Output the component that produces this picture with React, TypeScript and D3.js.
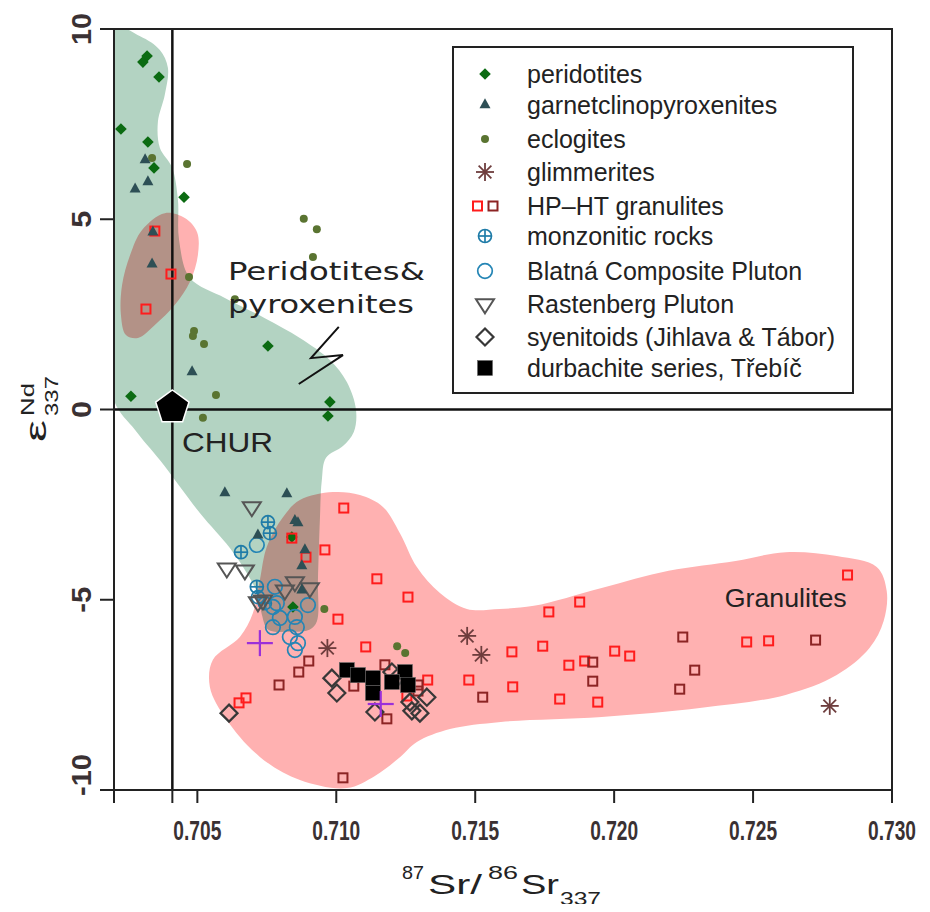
import React from "react";
import * as d3 from "d3";

// 87Sr/86Sr (337 Ma) vs eps Nd (337 Ma)
const xTicks = [0.705, 0.71, 0.715, 0.72, 0.725, 0.73];
const xTickLabels = ["0.705", "0.710", "0.715", "0.720", "0.725", "0.730"];
const yTicks = [10, 5, 0, -5, -10];
const yTickLabels = ["10", "5", "0", "-5", "-10"];

const chur: [number, number] = [0.7041, 0];

const peridotites: [number, number][] = [
  [0.70304, 9.13], [0.70319, 9.29], [0.70362, 8.74], [0.70225, 7.37], [0.70322, 7.03],
  [0.70344, 6.35], [0.70452, 5.58], [0.70754, 1.67], [0.70261, 0.35], [0.70977, 0.2],
  [0.7097, -0.17], [0.7084, -3.35], [0.70844, -5.19],
];
const garnetClinopyroxenites: [number, number][] = [
  [0.70312, 6.56], [0.70322, 5.98], [0.70276, 5.79], [0.7034, 4.66], [0.70337, 3.82],
  [0.70481, 0.99], [0.70599, -2.19], [0.70822, -2.22], [0.70862, -2.98], [0.70851, -2.92],
  [0.70718, -3.3], [0.70887, -3.69], [0.70876, -4.11], [0.70876, -4.75],
];
const eclogites: [number, number][] = [
  [0.70337, 6.61], [0.70463, 6.45], [0.70883, 5.01], [0.7093, 4.74], [0.70916, 4.01],
  [0.7047, 3.48], [0.70635, 2.9], [0.70488, 2.06], [0.70484, 1.93], [0.70524, 1.72],
  [0.70567, 0.38], [0.7052, -0.22], [0.70957, -5.24], [0.71219, -6.22], [0.71248, -6.4],
];
const glimmerites: [number, number][] = [
  [0.70968, -6.27], [0.71471, -5.95], [0.71522, -6.45], [0.72776, -7.79],
];
const granulitesRed: [number, number][] = [
  [0.70347, 4.69], [0.70405, 3.56], [0.70315, 2.64], [0.71027, -2.59], [0.70959, -3.69],
  [0.70891, -3.88], [0.7084, -3.38], [0.71146, -4.45], [0.71258, -4.93], [0.71006, -5.51],
  [0.71106, -6.24], [0.70675, -7.58], [0.7065, -7.71], [0.71329, -7.11], [0.71254, -7.53],
  [0.71477, -7.11], [0.71632, -6.37], [0.71635, -7.29], [0.71765, -5.32], [0.71876, -5.06],
  [0.71743, -6.22], [0.71837, -6.72], [0.71894, -6.61], [0.71804, -7.61], [0.71941, -7.69],
  [0.72002, -6.35], [0.72056, -6.48], [0.72477, -6.11], [0.72556, -6.08], [0.7284, -4.35],
];
const granulitesDark: [number, number][] = [
  [0.70901, -6.61], [0.70865, -6.9], [0.70794, -7.24], [0.71175, -6.71], [0.71063, -7.27],
  [0.71294, -7.24], [0.71294, -7.4], [0.71182, -8.13], [0.71527, -7.56], [0.71024, -9.68],
  [0.71923, -6.64], [0.71923, -7.14], [0.72247, -5.98], [0.7229, -6.85], [0.72236, -7.35],
  [0.72725, -6.06],
];
const monzonitic: [number, number][] = [
  [0.70754, -2.96], [0.70761, -3.25], [0.70657, -3.75], [0.70714, -4.66], [0.70718, -4.93],
  [0.70743, -5.09],
];
const blatna: [number, number][] = [
  [0.70714, -3.56], [0.70779, -4.66], [0.70786, -5.09], [0.70772, -5.19], [0.70898, -5.14],
  [0.70797, -5.48], [0.70772, -5.72], [0.70851, -5.45], [0.70858, -5.72], [0.70833, -5.98],
  [0.70862, -6.14], [0.70851, -6.32],
];
const rastenberg: [number, number][] = [
  [0.70696, -2.56], [0.70606, -4.17], [0.70671, -4.22], [0.70851, -4.53], [0.70905, -4.69],
  [0.70815, -4.75], [0.70736, -5.01], [0.70718, -5.06],
];
const syenitoids: [number, number][] = [
  [0.70614, -7.98], [0.70984, -7.06], [0.71002, -7.45], [0.71139, -7.95], [0.712, -6.9],
  [0.71222, -7.03], [0.71265, -7.69], [0.71326, -7.56], [0.71301, -7.98], [0.71272, -7.92],
];
const durbachites: [number, number][] = [
  [0.71038, -6.85], [0.71078, -6.98], [0.71132, -7.06], [0.71132, -7.45], [0.71247, -6.9],
  [0.712, -7.16], [0.71258, -7.24],
];
const unlabelled: [number, number][] = [[0.70725, -6.14], [0.7116, -7.74]];

// fields
const peridotiteField: [number, number][] = [
  [0.70193, 10.03], [0.70294, 9.81], [0.70365, 9.45], [0.70394, 8.98], [0.70383, 8.28],
  [0.70358, 7.56], [0.70365, 6.88], [0.70409, 6.36], [0.7043, 5.52], [0.70434, 4.47],
  [0.70473, 3.46], [0.70599, 2.93], [0.70743, 2.4], [0.70869, 1.88], [0.70977, 1.3],
  [0.71038, 0.72], [0.71071, -0.01], [0.71063, -0.59], [0.71024, -0.96], [0.70963, -1.27],
  [0.70948, -1.85], [0.70941, -2.9], [0.70934, -4.48], [0.7093, -5.57], [0.70905, -5.78],
  [0.70833, -5.84], [0.70754, -5.78], [0.70732, -5.39], [0.70718, -4.87], [0.70682, -4.35],
  [0.70617, -3.64], [0.70509, -2.72], [0.70365, -1.33], [0.70276, -0.54], [0.70193, 0.38],
];
const granuliteFieldSmall: [number, number][] = [
  [0.70383, 5.16], [0.70455, 5.03], [0.70499, 4.66], [0.70502, 4.06], [0.70473, 3.35],
  [0.70419, 2.75], [0.70347, 2.22], [0.70286, 1.88], [0.70243, 1.96], [0.70225, 2.48],
  [0.70229, 3.27], [0.70258, 4.06], [0.70301, 4.72],
];
const granuliteField: [number, number][] = [
  [0.70988, -2.17], [0.71085, -2.25], [0.71168, -2.56], [0.71229, -3.25], [0.7129, -4.14],
  [0.71373, -4.82], [0.7147, -5.24], [0.71588, -5.24], [0.71711, -5.16], [0.71955, -4.69],
  [0.72196, -4.24], [0.72437, -3.98], [0.72617, -3.75], [0.72801, -3.85], [0.72945, -4.14],
  [0.72981, -4.77], [0.7297, -5.56], [0.72919, -6.27], [0.72801, -6.98], [0.72617, -7.5],
  [0.72315, -7.84], [0.71955, -8.08], [0.71592, -8.21], [0.71409, -8.4], [0.7129, -8.74],
  [0.71229, -9.14], [0.71139, -9.63], [0.71038, -9.95], [0.70869, -9.74], [0.70725, -9.13],
  [0.70606, -8.16], [0.70545, -7.29], [0.70556, -6.58], [0.70653, -5.98], [0.707, -5.35],
  [0.70725, -4.48], [0.7075, -3.61], [0.70808, -2.83], [0.70869, -2.38],
];
const bolt: [number, number][] = [[0.71009, 2.17], [0.70909, 1.35], [0.71024, 1.43], [0.70865, 0.67]];

const legendLabels = [
  "peridotites", "garnetclinopyroxenites", "eclogites", "glimmerites", "HP\u2013HT granulites",
  "monzonitic rocks", "Blatná Composite Pluton", "Rastenberg Pluton",
  "syenitoids (Jihlava & Tábor)", "durbachite series, Třebíč",
];

const C = {
  perid: "#0b6b12", garnet: "#2d4f55", eclog: "#5a7431", glim: "#6e3d3d",
  red: "#ff1c1c", darkred: "#8c2424", monz: "#1f7ca8", blatna: "#2485b5",
  rast: "#555555", syen: "#383838", purple: "#9b30d9",
  green: "#b3d3c2", pink: "#ffb1b1",
};

const x = d3.scaleLinear().domain([0.702, 0.73]).range([114, 892]);
const y = d3.scaleLinear().domain([-10, 10]).range([790, 29]);

const diamond = (r: number) => `M0,${-r}L${r},0L0,${r}L${-r},0Z`;
const triUp = (w: number, h: number) => `M0,${(-h * 2) / 3}L${w / 2},${h / 3}L${-w / 2},${h / 3}Z`;
const triDown = (w: number, h: number) => `M0,${(h * 2) / 3}L${w / 2},${-h / 3}L${-w / 2},${-h / 3}Z`;

const Marker = ({ kind, tx, ty }: { kind: string; tx: number; ty: number }) => {
  const t = `translate(${tx},${ty})`;
  switch (kind) {
    case "perid":
      return <path transform={t} d={diamond(5.8)} fill={C.perid} />;
    case "garnet":
      return <path transform={t} d={triUp(11, 10)} fill={C.garnet} />;
    case "eclog":
      return <circle cx={tx} cy={ty} r={4} fill={C.eclog} />;
    case "glim":
      return (
        <g transform={t} stroke={C.glim} strokeWidth={1.8}>
          {[0, 45, 90, 135].map((a) => (
            <line key={a} x1={-9} x2={9} y1={0} y2={0} transform={`rotate(${a})`} />
          ))}
        </g>
      );
    case "red":
    case "darkred":
      return <rect x={tx - 4.5} y={ty - 4.5} width={9} height={9} fill="none" stroke={C[kind]} strokeWidth={2} />;
    case "monz":
      return (
        <g transform={t} stroke={C.monz} strokeWidth={1.7} fill="none">
          <circle r={6.5} />
          <line x1={-6.5} x2={6.5} />
          <line y1={-6.5} y2={6.5} />
        </g>
      );
    case "blatna":
      return <circle cx={tx} cy={ty} r={7.3} fill="none" stroke={C.blatna} strokeWidth={1.7} />;
    case "rast":
      return <path transform={t} d={triDown(18, 14)} fill="none" stroke={C.rast} strokeWidth={2} />;
    case "syen":
      return <path transform={t} d={diamond(8.5)} fill="none" stroke={C.syen} strokeWidth={2.2} />;
    case "durb":
      return <rect x={tx - 7.5} y={ty - 7.5} width={15} height={15} fill="#000" stroke="#666" strokeWidth={0.6} />;
    case "cross":
      return (
        <g transform={t} stroke={C.purple} strokeWidth={2.2}>
          <line x1={-13} x2={13} />
          <line y1={-13} y2={13} />
        </g>
      );
    default:
      return null;
  }
};

const series: [string, [number, number][]][] = [
  ["eclog", eclogites],
  ["perid", peridotites],
  ["red", granulitesRed],
  ["darkred", granulitesDark],
  ["monz", monzonitic],
  ["blatna", blatna],
  ["rast", rastenberg],
  ["garnet", garnetClinopyroxenites],
  ["glim", glimmerites],
  ["syen", syenitoids],
  ["durb", durbachites],
  ["cross", unlabelled],
];

const legendKinds = ["perid", "garnet", "eclog", "glim", "hpht", "monz", "blatna", "rast", "syen", "durb"];
const legendRowY = [74, 105, 139, 172, 206, 236, 271, 304, 337, 368];
const yLabelLen = [32, 17, 17, 26, 42];

export default function App() {
  const area = d3
    .line<[number, number]>()
    .x((d) => x(d[0]))
    .y((d) => y(d[1]))
    .curve(d3.curveCatmullRomClosed.alpha(0.5));
  const open = d3.line<[number, number]>().x((d) => x(d[0])).y((d) => y(d[1]));

  const [x0, x1] = x.range();
  const [y0, y1] = [y(10), y(-10)];
  const cx = x(chur[0]);
  const cy = y(chur[1]) - 2;
  const pent = d3.range(5).map((i) => {
    const a = -Math.PI / 2 + (i * 2 * Math.PI) / 5;
    return [cx + 17.5 * Math.cos(a), cy + 17.5 * Math.sin(a)];
  });

  const tickFont = "'Liberation Sans Narrow', 'Arial Narrow', sans-serif";
  const sans = "'Liberation Sans', Arial, sans-serif";

  return (
    <svg width={930} height={912} style={{ display: "block", margin: "-8px", background: "#fff" }}>
      <defs>
        <clipPath id="plot">
          <rect x={x0} y={y0} width={x1 - x0} height={y1 - y0} />
        </clipPath>
      </defs>
      <rect width={930} height={912} fill="#fff" />

      <g clipPath="url(#plot)" style={{ isolation: "isolate" }}>
        <path d={area(peridotiteField) || ""} fill={C.green} />
        <path d={area(granuliteFieldSmall) || ""} fill={C.pink} style={{ mixBlendMode: "multiply" }} />
        <path d={area(granuliteField) || ""} fill={C.pink} style={{ mixBlendMode: "multiply" }} />
      </g>

      {/* CHUR reference lines */}
      <line x1={cx} x2={cx} y1={y0} y2={y1} stroke="#111" strokeWidth={2.5} />
      <line x1={x0} x2={x1} y1={y(0)} y2={y(0)} stroke="#111" strokeWidth={2.5} />

      {/* frame and ticks */}
      <rect x={x0} y={y0} width={x1 - x0} height={y1 - y0} fill="none" stroke="#222" strokeWidth={2} />
      {yTicks.map((t) => (
        <line key={t} x1={100} x2={x0} y1={y(t)} y2={y(t)} stroke="#222" strokeWidth={2} />
      ))}
      {xTicks.map((t) => (
        <line key={t} x1={x(t)} x2={x(t)} y1={y1} y2={y1 + 13} stroke="#222" strokeWidth={2} />
      ))}
      <line x1={x0} x2={x0} y1={y1} y2={y1 + 13} stroke="#222" strokeWidth={2} />
      <line x1={cx} x2={cx} y1={y1} y2={y1 + 13} stroke="#222" strokeWidth={2} />

      {xTicks.map((t, i) => (
        <text key={t} x={x(t)} y={840} textAnchor="middle" fontFamily={tickFont} fontWeight="bold"
          fontSize={28} fill="#3a3133" textLength={48} lengthAdjust="spacingAndGlyphs">
          {xTickLabels[i]}
        </text>
      ))}
      {yTicks.map((t, i) => (
        <text key={t} transform={`translate(91,${y(t)}) rotate(-90)`}
          x={t === -10 ? -6 : 0} textAnchor={t === -10 ? "start" : "middle"}
          fontFamily={tickFont} fontWeight="bold" fontSize={28} fill="#3a3133"
          textLength={yLabelLen[i]} lengthAdjust="spacingAndGlyphs">
          {yTickLabels[i]}
        </text>
      ))}

      {/* axis titles */}
      <g fontFamily={sans} fill="#222">
        <text x={402} y={879} fontSize={19} textLength={22} lengthAdjust="spacingAndGlyphs">87</text>
        <text x={428} y={894} fontSize={28} textLength={54} lengthAdjust="spacingAndGlyphs">Sr/</text>
        <text x={488} y={879} fontSize={19} textLength={30} lengthAdjust="spacingAndGlyphs">86</text>
        <text x={521} y={894} fontSize={28} textLength={38} lengthAdjust="spacingAndGlyphs">Sr</text>
        <text x={560} y={905} fontSize={19} textLength={41} lengthAdjust="spacingAndGlyphs">337</text>
      </g>
      <g transform="translate(46,442) rotate(-90)" fontFamily={sans} fill="#222">
        <text x={0} y={0} fontSize={30} textLength={22} lengthAdjust="spacingAndGlyphs">ε</text>
        <text x={26} y={-12} fontSize={19} textLength={33} lengthAdjust="spacingAndGlyphs">Nd</text>
        <text x={26} y={12} fontSize={19} textLength={40} lengthAdjust="spacingAndGlyphs">337</text>
      </g>

      {/* data */}
      {series.map(([kind, pts]) =>
        pts.map((d, i) => <Marker key={kind + i} kind={kind} tx={x(d[0])} ty={y(d[1])} />)
      )}

      <polygon points={pent.map((p) => p.join(",")).join(" ")} fill="#000" stroke="#fff" strokeWidth={1.5} />

      {/* annotations */}
      <path d={open(bolt) || ""} fill="none" stroke="#111" strokeWidth={2} />
      <text x={x(0.7061)} y={y(3.4)} fontFamily="'DejaVu Sans', sans-serif" fontSize={24} fill="#222"
        textLength={197} lengthAdjust="spacingAndGlyphs">Peridotites&amp;</text>
      <text x={x(0.7061)} y={y(2.54)} fontFamily="'DejaVu Sans', sans-serif" fontSize={24} fill="#222"
        textLength={186} lengthAdjust="spacingAndGlyphs">pyroxenites</text>
      <text x={x(0.70445)} y={y(-1.12)} fontFamily={sans} fontSize={28} fill="#222"
        textLength={91} lengthAdjust="spacingAndGlyphs">CHUR</text>
      <text x={x(0.72398)} y={y(-5.19)} fontFamily={sans} fontSize={26} fill="#222"
        textLength={122} lengthAdjust="spacingAndGlyphs">Granulites</text>

      {/* legend */}
      <rect x={453} y={47} width={400} height={346} fill="#fff" stroke="#222" strokeWidth={2} />
      {legendKinds.map((k, i) => (
        <g key={k}>
          {k === "hpht" ? (
            <>
              <Marker kind="red" tx={477.5} ty={legendRowY[i]} />
              <Marker kind="darkred" tx={493} ty={legendRowY[i]} />
            </>
          ) : (
            <Marker kind={k} tx={485} ty={legendRowY[i]} />
          )}
          <text x={527} y={legendRowY[i] + 9} fontFamily={sans} fontSize={25} fill="#222">
            {legendLabels[i]}
          </text>
        </g>
      ))}
    </svg>
  );
}
